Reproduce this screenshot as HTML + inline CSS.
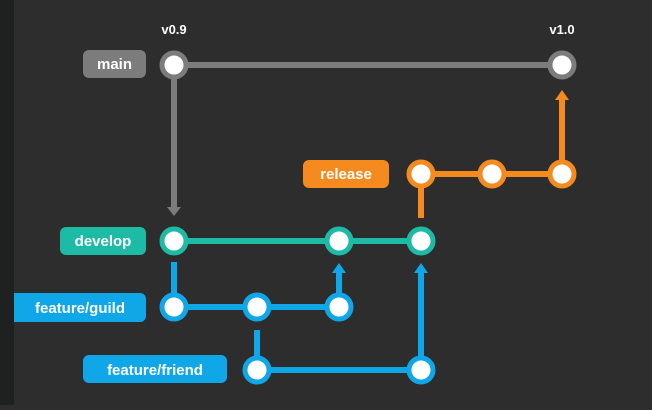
<!DOCTYPE html>
<html><head><style>
body{margin:0;width:652px;height:405px;background:#2d2d2d;overflow:hidden;font-family:"Liberation Sans",sans-serif}
</style></head><body>
<svg width="652" height="405" viewBox="0 0 652 405" xmlns="http://www.w3.org/2000/svg">
<g stroke-width="6" fill="none">
<path d="M174 65H562" stroke="#7c7c7c"/>
<path d="M174 65V208" stroke="#7c7c7c"/>
<path d="M174 241H421" stroke="#1dbba5"/>
<path d="M421 218V174H562V98" stroke="#f58a1f"/>
<path d="M174 262V307H339V272M257 330V370H421V272" stroke="#0fa7e8"/>
</g>
<polygon points="167,207 181,207 174,216" fill="#7c7c7c"/>
<polygon points="332,273 346,273 339,263" fill="#0fa7e8"/>
<polygon points="414,273 428,273 421,263" fill="#0fa7e8"/>
<polygon points="555,100 569,100 562,90" fill="#f58a1f"/>
<g stroke-width="5" fill="#fff">
<circle cx="174" cy="65" r="12" stroke="#7c7c7c"/>
<circle cx="562" cy="65" r="12" stroke="#7c7c7c"/>
<circle cx="421" cy="174" r="12" stroke="#f58a1f"/>
<circle cx="492" cy="174" r="12" stroke="#f58a1f"/>
<circle cx="562" cy="174" r="12" stroke="#f58a1f"/>
<circle cx="174" cy="241" r="12" stroke="#1dbba5"/>
<circle cx="339" cy="241" r="12" stroke="#1dbba5"/>
<circle cx="421" cy="241" r="12" stroke="#1dbba5"/>
<circle cx="174" cy="307" r="12" stroke="#0fa7e8"/>
<circle cx="257" cy="307" r="12" stroke="#0fa7e8"/>
<circle cx="339" cy="307" r="12" stroke="#0fa7e8"/>
<circle cx="257" cy="370" r="12" stroke="#0fa7e8"/>
<circle cx="421" cy="370" r="12" stroke="#0fa7e8"/>
</g>
<rect x="83" y="50" width="63" height="28" rx="6" fill="#7c7c7c"/>
<rect x="60" y="227" width="86" height="28" rx="6" fill="#1dbba5"/>
<rect x="6" y="293" width="140" height="29" rx="6" fill="#0fa7e8"/>
<rect x="83" y="355" width="144" height="28" rx="6" fill="#0fa7e8"/>
<rect x="303" y="160" width="86" height="28" rx="6" fill="#f58a1f"/>
<rect x="0" y="0" width="14" height="405" fill="#1e2120"/>
<g fill="#fff" font-weight="bold" font-size="15" text-anchor="middle">
<text x="114.5" y="69">main</text>
<text x="103" y="246">develop</text>
<text x="80" y="313">feature/guild</text>
<text x="155" y="375">feature/friend</text>
<text x="346" y="179">release</text>
<text x="174" y="34" font-size="13">v0.9</text>
<text x="562" y="34" font-size="13">v1.0</text>
</g>
</svg>
</body></html>
